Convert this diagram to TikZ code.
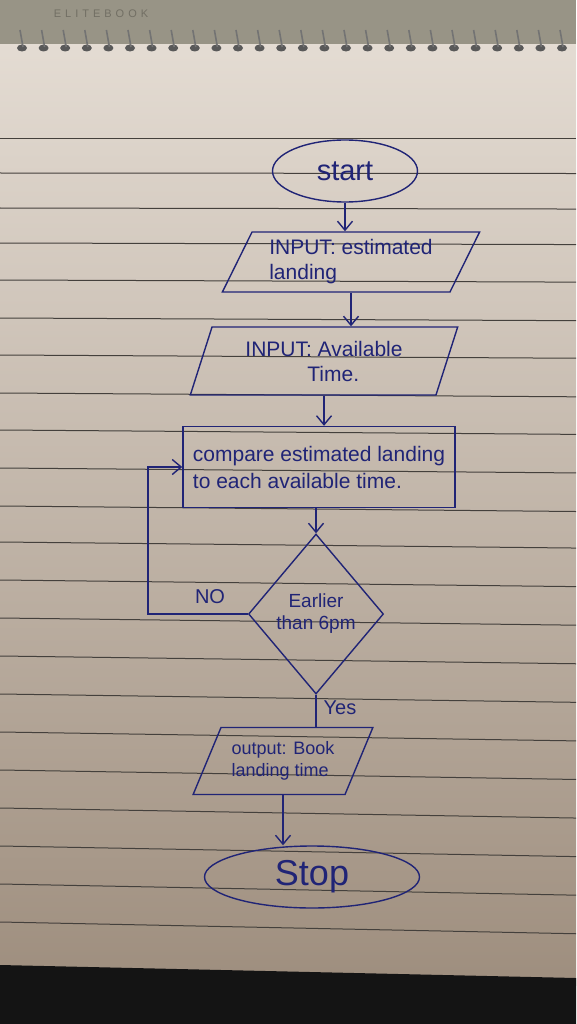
\documentclass[tikz,border=0pt]{standalone}
\usepackage{fontspec}
\setmainfont{Liberation Sans}
\usetikzlibrary{positioning, arrows.meta, calc, shapes.geometric}
\definecolor{ink}{RGB}{32,36,118}
\definecolor{papertop}{RGB}{228,220,211}
\definecolor{paperbot}{RGB}{158,142,126}
\definecolor{ruleline}{RGB}{68,64,60}
\definecolor{cover}{RGB}{152,148,134}
\tikzset{
  terminal/.style={ellipse, draw=ink, line width=1.4pt, text=ink, inner sep=0pt},
  iobox/.style={trapezium, trapezium stretches=true, draw=ink, line width=1.4pt,
    text=ink, inner sep=1pt, font=\fontsize{21}{25}\selectfont},
  process/.style={rectangle, draw=ink, line width=1.4pt, text=ink, align=left,
    inner sep=2pt, font=\fontsize{21}{27}\selectfont},
  decision/.style={diamond, draw=ink, line width=1.4pt, text=ink, align=center,
    inner sep=0pt, font=\fontsize{19}{22}\selectfont},
  flow/.style={draw=ink, line width=1.4pt, -{Straight Barb[length=9pt,width=15pt]}},
  lbl/.style={text=ink, font=\fontsize{20}{24}\selectfont}
}

\begin{document}
\begin{tikzpicture}[x=1pt,y=-1pt]
  \useasboundingbox (0,0) rectangle (576,1024);
  % paper, cover and spiral
  \shade[top color=papertop, bottom color=paperbot] (0,40) rectangle (576,985);
  \fill[cover] (0,0) rectangle (576,44);
  \node[text=cover!75!black, font=\fontsize{11}{11}\selectfont] (brand) at (101,14) {E\hspace{4pt}L\hspace{4pt}I\hspace{4pt}T\hspace{4pt}E\hspace{4pt}B\hspace{4pt}O\hspace{4pt}O\hspace{4pt}K};
  \foreach \k in {0,...,25} {
    \pgfmathsetmacro\rx{20+21.6*\k}
    \fill[black!65] (\rx+2,48) ellipse (5 and 3.5);
    \draw[black!55, line width=1.6pt] (\rx,30) -- (\rx+3,47);
  }
  % ruled lines
  \foreach \ly in {139,173,208,243,280,318,355,393,430,468,506,542,580,618,656,694,732,770,808,846,884,922} {
    \pgfmathsetmacro\tl{(\ly-139)/800*12}
    \draw[ruleline, line width=1pt] (0,\ly) -- (576,{\ly+\tl});
  }
  % bottom edge
  \fill[black!92] (0,965) -- (576,978) -- (576,1024) -- (0,1024) -- cycle;

  % flowchart
  \node[terminal, minimum width=145, minimum height=62, font=\fontsize{29}{32}\selectfont] (start) at (345,171) {start};
  \node[iobox, trapezium left angle=62, trapezium right angle=118, minimum width=258, minimum height=60, align=left] (inp1) at (351,262) {INPUT: estimated\\landing};
  \node[iobox, trapezium left angle=70, trapezium right angle=110, minimum width=268, minimum height=68, align=left] (inp2) at (324,361) {INPUT: Available\\\hspace*{62pt}Time.};
  \node[process, minimum width=272, minimum height=81] (cmp) at (319,467) {compare estimated landing\\to each available time.};
  \node[decision, minimum width=135, minimum height=160] (dec) at (316,614) {Earlier\\than 6pm};
  \node[iobox, trapezium left angle=60, trapezium right angle=120, minimum width=180, minimum height=67, align=left, font=\fontsize{18}{22}\selectfont] (outp) at (283,761) {output: Book\\landing time};
  \node[terminal, minimum width=215, minimum height=62, font=\fontsize{36}{40}\selectfont] (stop) at (312,877) {Stop};

  \node[lbl] (nolbl) at (210,597) {NO};
  \node[lbl] (yeslbl) at (340,708) {Yes};

  % connectors
  \draw[flow] (start.south) -- (start.south |- inp1.north);
  \draw[flow] (inp1.south) -- (inp1.south |- inp2.north);
  \draw[flow] (inp2.south) -- (inp2.south |- cmp.north);
  \draw[flow] (cmp.south -| dec.north) -- (dec.north);
  \coordinate (noturn) at (148,614);
  \draw[flow] (dec.west) -- (noturn) |- (cmp.west);
  \draw[ink, line width=1.4pt] (dec.south) -- (dec.south |- outp.north);
  \draw[flow] (outp.south) -- (outp.south |- stop.north);
\end{tikzpicture}
\end{document}
